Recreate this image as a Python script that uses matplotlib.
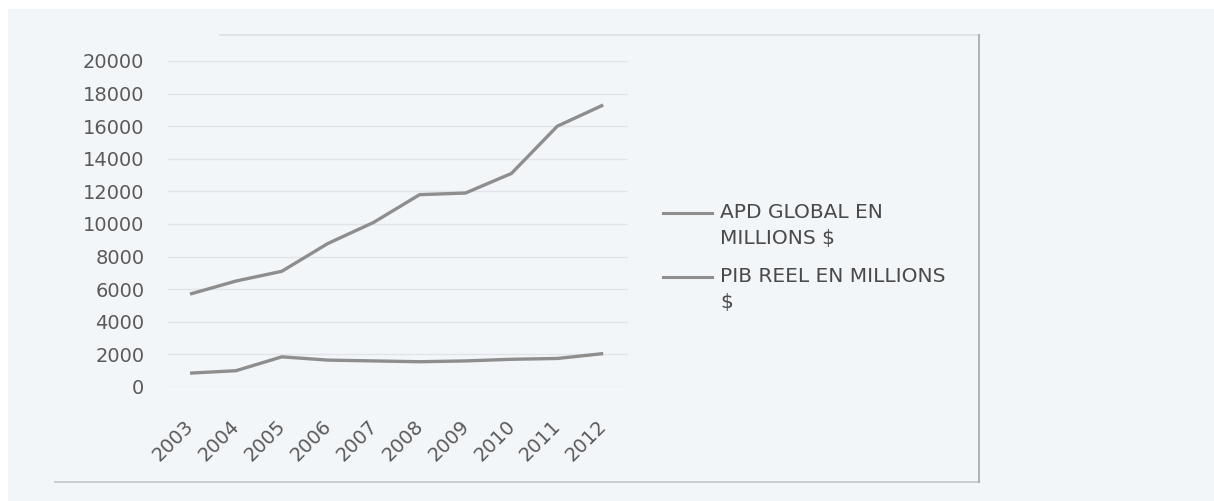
import matplotlib.pyplot as plt
import matplotlib.transforms as mtransforms
from matplotlib.lines import Line2D
from matplotlib.patches import Rectangle

years = ["2003", "2004", "2005", "2006", "2007", "2008", "2009", "2010", "2011", "2012"]
apd_global = [5700, 6500, 7100, 8800, 10100, 11800, 11900, 13100, 16000, 17300]
pib_reel = [850, 1000, 1850, 1650, 1600, 1550, 1600, 1700, 1750, 2050]
labels = ["APD GLOBAL EN\nMILLIONS $", "PIB REEL EN MILLIONS\n$"]

W, H = 1214, 501
bg = "#f3f6f9"
line_col = "#8e8e8e"
text_col = "#5a5a5a"

plt.rcParams["font.family"] = ["DejaVu Sans"]

fig = plt.figure(figsize=(W / 100, H / 100), dpi=100)
fig.patch.set_facecolor(bg)


def px(x, y):
    # pixel position (from top-left) to figure fraction
    return x / W, 1 - y / H


# white margin along the top and left edge
fig.patches.append(Rectangle((0, 1 - 9 / H), 1, 9 / H, transform=fig.transFigure,
                             facecolor="white", edgecolor="none", zorder=0))
fig.patches.append(Rectangle((0, 0), 8 / W, 1, transform=fig.transFigure,
                             facecolor="white", edgecolor="none", zorder=0))

# chart frame: faint top and bottom, darker right edge
x0, y1 = px(55, 35)
x1, y0 = px(979, 482)
fig.add_artist(Line2D([px(220, 0)[0], x1], [y1, y1], transform=fig.transFigure, color="#dcdfe3", lw=1.2))
fig.add_artist(Line2D([x0, x1], [y0, y0], transform=fig.transFigure, color="#c8cbcf", lw=1.4))
fig.add_artist(Line2D([x1, x1], [y0, y1], transform=fig.transFigure, color="#aeb2b6", lw=1.4))

ax = fig.add_axes([168 / W, 1 - 387 / H, 460 / W, 326 / H])
ax.set_facecolor("none")

x = list(range(len(years)))
series = [apd_global, pib_reel]
for vals in series:
    ax.plot(x, vals, color=line_col, lw=2.4, solid_capstyle="butt")

ax.set_xlim(-0.48, 9.54)
ax.set_ylim(0, 20000)
ax.set_yticks(range(0, 20001, 2000))
ax.set_xticks(x)
ax.set_xticklabels(years, rotation=45, ha="right", rotation_mode="anchor")
ax.tick_params(axis="y", length=0, pad=17, labelsize=14, labelcolor=text_col)
ax.tick_params(axis="x", length=0, pad=21, labelsize=14, labelcolor=text_col)
shift = mtransforms.ScaledTranslation(-6 / 100, 0, fig.dpi_scale_trans)
for lbl in ax.get_xticklabels():
    lbl.set_transform(lbl.get_transform() + shift)
ax.grid(axis="y", color="#e1e4e8", lw=1)
ax.set_axisbelow(True)
for s in ax.spines.values():
    s.set_visible(False)

# legend: short line sample next to the first line of each label
leg_rows = [213, 277]
for lab, row in zip(labels, leg_rows):
    lx0, ly = px(663, row)
    lx1, _ = px(712, row)
    fig.add_artist(Line2D([lx0, lx1], [ly, ly], transform=fig.transFigure, color=line_col, lw=2.2))
    for k, part in enumerate(lab.split("\n")):
        tx, ty = px(720, row + 25.5 * k)
        fig.text(tx, ty, part, ha="left", va="center", fontsize=14.5, color="#4a4a4a")

fig.savefig("out.png", dpi=100, facecolor=fig.get_facecolor())
